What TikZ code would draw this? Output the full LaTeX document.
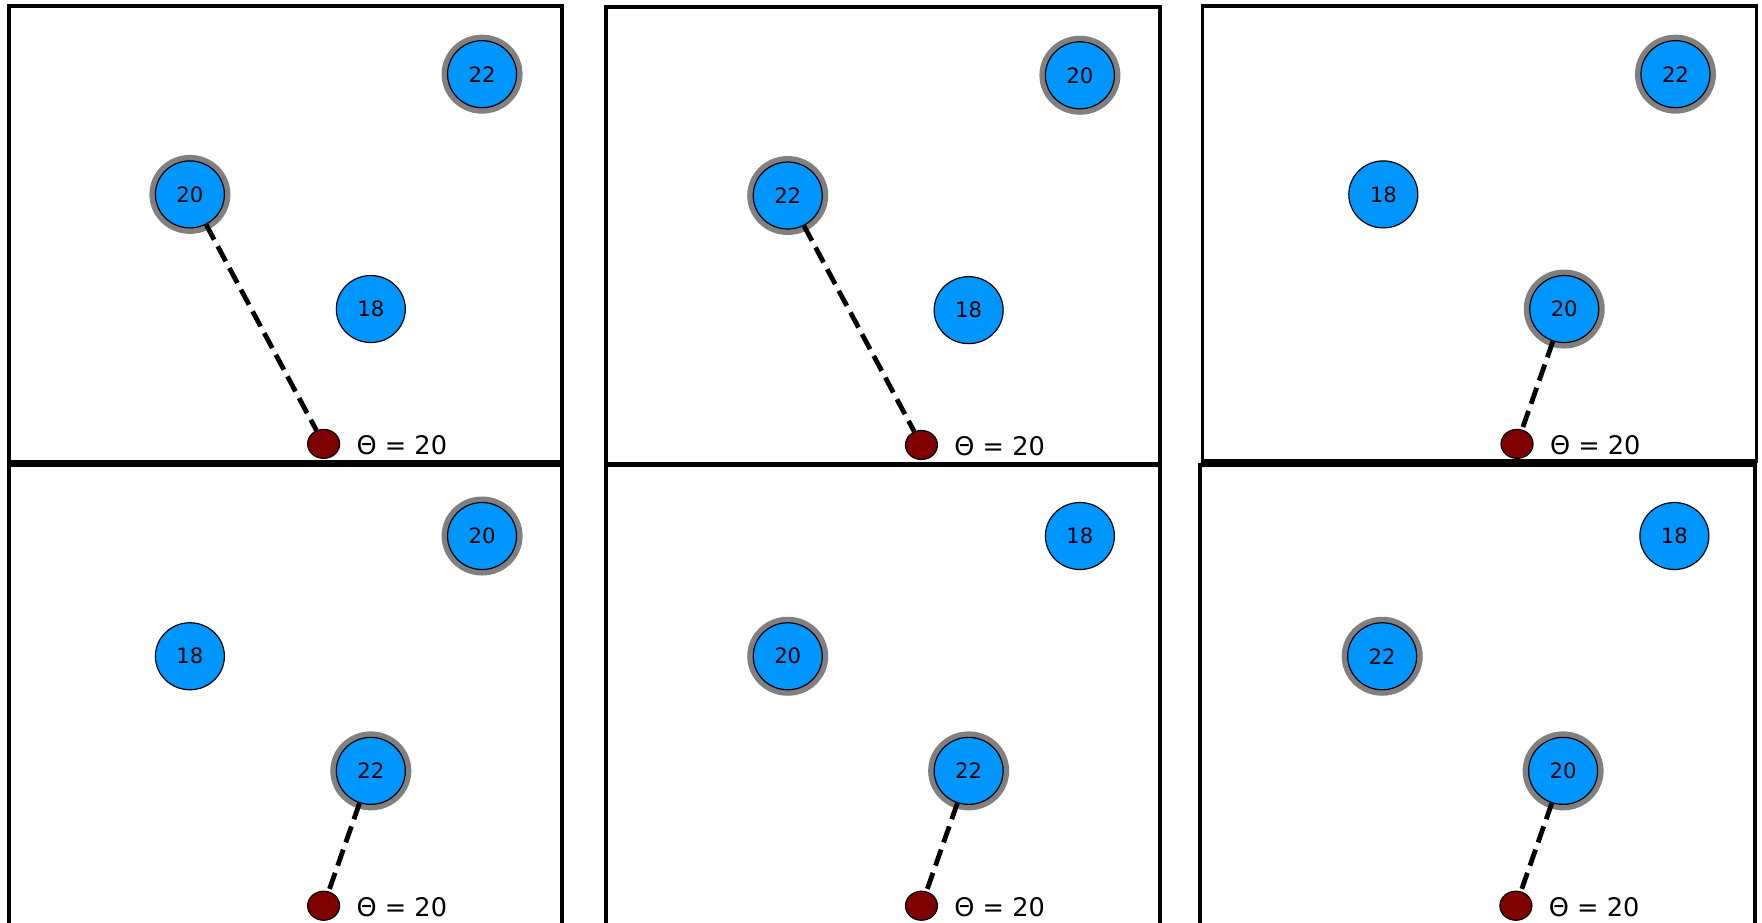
\documentclass[tikz,border=0pt]{standalone}
\usepackage{fontspec}
\setmainfont{DejaVu Sans}
\usetikzlibrary{shapes.geometric}

\definecolor{nodeblue}{RGB}{0,150,255}
\definecolor{ringgray}{RGB}{128,128,128}
\definecolor{dotred}{RGB}{128,0,0}

% One panel: three sensor nodes (slots a, b, c), the reference dot s and its reading.
% #1 id, #2/#3 shift, #4/#5 slot a label/style, #6/#7 slot b, #8/#9 slot c
\newcommand{\sensorpanel}[9]{%
  \begin{scope}[shift={(#2,#3)}]
    \node[#5] (p#1a) at (429,66)  {#4};
    \node[#7] (p#1b) at (169,173) {#6};
    \node[#9] (p#1c) at (330,275) {#8};
    \node[refdot] (p#1s) at (288,395) {};
    \node[reading] (p#1r) at (317,396) {Θ = 20};
  \end{scope}}

\begin{document}
\begin{tikzpicture}[
  x=0.56185pt, y=-0.56185pt,
  plain/.style={ellipse, fill=nodeblue, draw=black, line width=0.6pt,
    minimum width=34.5pt, minimum height=33.5pt, inner sep=0pt,
    font=\fontsize{10.6}{11}\selectfont},
  ringed/.style={plain, preaction={draw=ringgray, line width=6pt}},
  refdot/.style={ellipse, fill=dotred, draw=black, line width=0.6pt,
    minimum width=16pt, minimum height=14.5pt, inner sep=0pt},
  reading/.style={anchor=west, inner sep=0pt, font=\fontsize{12.8}{13}\selectfont},
  link/.style={draw=black, line width=2.4pt, dash pattern=on 8.5pt off 3.8pt},
  frame/.style={draw=black, line width=1.9pt}
]
\useasboundingbox (0,0) rectangle (1568,821);
\clip (0,0) rectangle (1568,821);
\fill[white] (0,0) rectangle (1568,821);

% panel frames
\draw[frame] (8,5) rectangle (500,411);
\draw[frame] (539,6) rectangle (1032,413);
\draw[frame] (1070,5) rectangle (1563,410);
\draw[frame] (8,414) rectangle (500,850);
\draw[frame] (539,414) rectangle (1032,850);
\draw[frame] (1068,414) rectangle (1562,850);

% panels
\sensorpanel{1}{0}{0}{22}{ringed}{20}{ringed}{18}{plain}
\sensorpanel{2}{532}{1}{20}{ringed}{22}{ringed}{18}{plain}
\sensorpanel{3}{1062}{0}{22}{ringed}{18}{plain}{20}{ringed}
\sensorpanel{4}{0}{411}{20}{ringed}{18}{plain}{22}{ringed}
\sensorpanel{5}{532}{411}{18}{plain}{20}{ringed}{22}{ringed}
\sensorpanel{6}{1061}{411}{18}{plain}{22}{ringed}{20}{ringed}

% links from the reference dot to the chosen sensor
\draw[link] (p1b) -- (p1s);
\draw[link] (p2b) -- (p2s);
\draw[link] (p3c) -- (p3s);
\draw[link] (p4c) -- (p4s);
\draw[link] (p5c) -- (p5s);
\draw[link] (p6c) -- (p6s);
\end{tikzpicture}
\end{document}
